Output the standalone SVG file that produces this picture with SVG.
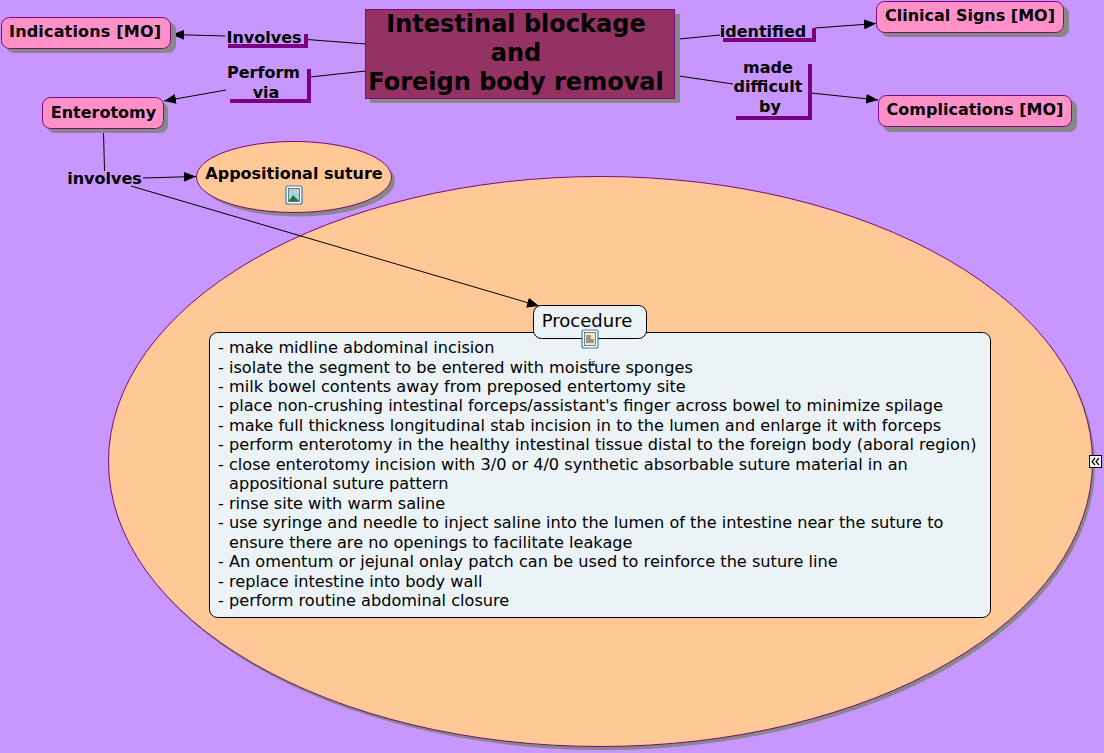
<svg xmlns="http://www.w3.org/2000/svg" width="1104" height="753" viewBox="0 0 1104 753">
<style>
text{font-family:"DejaVu Sans",Verdana,sans-serif;fill:#000;text-anchor:middle}
.b{font-weight:bold;font-size:16px}
.t{font-weight:bold;font-size:24px}
.n{font-size:16.15px;text-anchor:start}
.s{fill:#888}
.pink{fill:#ff91c8;stroke:#7a0a7a;stroke-width:1}
.or{fill:#ffc896;stroke:#7a0a7a;stroke-width:1}
.c{fill:none;stroke:#000;stroke-width:1}
.br{fill:none;stroke:#7a0080;stroke-width:4}
.box{fill:#ecf3f6;stroke:#000;stroke-width:1}
</style>
<defs>
<marker id="a" markerWidth="13" markerHeight="10" refX="12" refY="5" orient="auto" markerUnits="userSpaceOnUse"><path d="M0 0L12 5L0 10Z" fill="#000"/></marker>
<g id="imgicon"><rect x="-8" y="-9" width="16" height="18" rx="2" fill="#fff" stroke="#3b78c4" stroke-width="1.2"/><rect x="-5.500" y="-6.500" width="11" height="13" fill="#a8d0e8" stroke="#333" stroke-width=".6"/><path d="M-5.500 6.500L-1 0L5.500 6.500Z" fill="#1f7a3a"/><circle cx="2.500" cy="-3.500" r="1.600" fill="#f6d860"/></g>
</defs>
<rect width="1104" height="753" fill="#c896ff"/>
<g id="node-large"><ellipse class="s" cx="603" cy="465" rx="492" ry="285"/><ellipse class="or" cx="600.500" cy="461.500" rx="492" ry="285"/></g>
<g id="connectors">
<path class="c" d="M366 44L307 39.500"/>
<path class="c" d="M225 36L172 34.500" marker-end="url(#a)"/>
<path class="c" d="M366 71L310 77"/>
<path class="c" d="M226 90L164 101" marker-end="url(#a)"/>
<path class="c" d="M679 39L720 35"/>
<path class="c" d="M815 28L876 23.500" marker-end="url(#a)"/>
<path class="c" d="M679 76L733 84"/>
<path class="c" d="M811 93L878 100" marker-end="url(#a)"/>
<path class="c" d="M103.500 132L104.500 171"/>
<path class="c" d="M143 178L196 176.500" marker-end="url(#a)"/>
<path class="c" d="M131 186L539 306" marker-end="url(#a)"/>
</g>
<g id="node-title"><rect class="s" x="370" y="14" width="310" height="89"/><rect x="365.500" y="9.500" width="309" height="89" fill="#953264" stroke="#7a0a7a"/>
<text class="t" x="516" y="32">Intestinal blockage</text><text class="t" x="516" y="61">and</text><text class="t" x="516" y="90">Foreign body removal</text></g>
<g id="node-indications"><rect class="s" x="6" y="22" width="170" height="31" rx="8"/><rect class="pink" x="1.500" y="17.500" width="169" height="31" rx="8"/><text class="b" x="85" y="37" textLength="152">Indications [MO]</text></g>
<g id="node-enterotomy"><rect class="s" x="47" y="102" width="121" height="31" rx="8"/><rect class="pink" x="42.500" y="97.500" width="121" height="31" rx="8"/><text class="b" x="103.500" y="118">Enterotomy</text></g>
<g id="node-clinical"><rect class="s" x="881" y="6" width="188" height="31" rx="8"/><rect class="pink" x="876.500" y="1.500" width="187" height="31" rx="8"/><text class="b" x="970" y="21">Clinical Signs [MO]</text></g>
<g id="node-complications"><rect class="s" x="883" y="100" width="194" height="32" rx="8"/><rect class="pink" x="878.500" y="95.500" width="193" height="31" rx="8"/><text class="b" x="975" y="115">Complications [MO]</text></g>
<g id="link-involves"><path class="br" d="M228 46H306V34"/><text class="b" x="264" y="43">Involves</text></g>
<g id="link-perform"><path class="br" d="M230 101H309V69"/><text class="b" x="263.500" y="78">Perform</text><text class="b" x="266" y="98">via</text></g>
<g id="link-identified"><path class="br" d="M723 40H814V28"/><text class="b" x="763" y="37">identified</text></g>
<g id="link-made"><path class="br" d="M736 118H810V64"/><text class="b" x="768" y="73">made</text><text class="b" x="768" y="92">difficult</text><text class="b" x="770" y="112">by</text></g>
<g id="link-involves2"><text class="b" x="104.500" y="184">involves</text></g>
<g id="node-appositional"><ellipse class="s" cx="298" cy="181" rx="97" ry="35.500"/><ellipse class="or" cx="294" cy="177" rx="97.500" ry="35.500"/><text class="b" x="294" y="179">Appositional suture</text><use href="#imgicon" x="294" y="195"/></g>
<g id="node-text-box"><rect class="box" x="209.500" y="332.500" width="781" height="285" rx="8"/>
<text class="n" x="218" y="353">- make midline abdominal incision</text>
<text class="n" x="218" y="373">- isolate the segment to be entered with moisture sponges</text>
<text class="n" x="218" y="392">- milk bowel contents away from preposed entertomy site</text>
<text class="n" x="218" y="411">- place non-crushing intestinal forceps/assistant's finger across bowel to minimize spilage</text>
<text class="n" x="218" y="431">- make full thickness longitudinal stab incision in to the lumen and enlarge it with forceps</text>
<text class="n" x="218" y="450">- perform enterotomy in the healthy intestinal tissue distal to the foreign body (aboral region)</text>
<text class="n" x="218" y="470">- close enterotomy incision with 3/0 or 4/0 synthetic absorbable suture material in an</text>
<text class="n" x="229" y="489">appositional suture pattern</text>
<text class="n" x="218" y="509">- rinse site with warm saline</text>
<text class="n" x="218" y="528">- use syringe and needle to inject saline into the lumen of the intestine near the suture to</text>
<text class="n" x="229" y="548">ensure there are no openings to facilitate leakage</text>
<text class="n" x="218" y="567">- An omentum or jejunal onlay patch can be used to reinforce the suture line</text>
<text class="n" x="218" y="587">- replace intestine into body wall</text>
<text class="n" x="218" y="606">- perform routine abdominal closure</text></g>
<g id="node-procedure"><rect class="box" x="533.500" y="305.500" width="113" height="33" rx="8"/><text x="587" y="327" font-size="18">Procedure</text>
<g transform="translate(590 339)"><rect x="-8" y="-9" width="16" height="18" rx="2" fill="#fff" stroke="#3b78c4" stroke-width="1.2"/><rect x="-5.500" y="-6.500" width="11" height="13" fill="#f2e6c8" stroke="#333" stroke-width=".6"/><path d="M-4 -3H1M-4 -1H1M-4 1H4M-4 3H4" stroke="#222" stroke-width=".8"/></g>
<text x="592" y="366" font-size="9">is</text></g>
<g id="expand"><rect x="1089.500" y="455.500" width="12" height="12" fill="#fff" stroke="#000"/><path d="M1095 458L1092 461.500L1095 465M1099 458L1096 461.500L1099 465" fill="none" stroke="#000" stroke-width="1.200"/></g>
</svg>
